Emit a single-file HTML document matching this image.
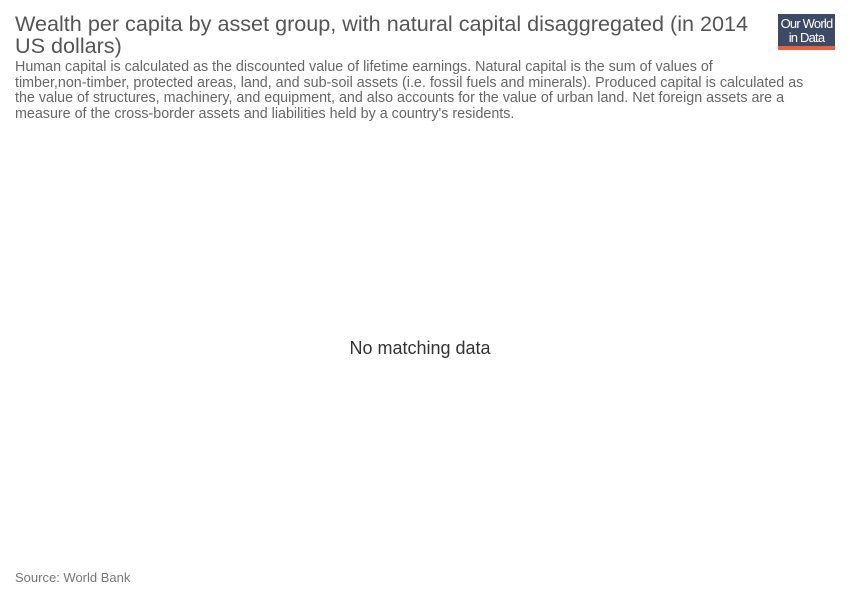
<!DOCTYPE html>
<html><head><meta charset="utf-8"><style>
body{margin:0;width:850px;height:600px;background:#fff;font-family:"Liberation Sans",Arial,sans-serif;position:relative;overflow:hidden}
.t{position:absolute;left:15px;top:13px;width:750px;font-size:21.6px;line-height:22px;color:#555}
.s{position:absolute;left:15px;top:60px;width:800px;font-size:14.3px;line-height:15.7px;color:#666}
.nw{white-space:nowrap}
.logo{position:absolute;left:778px;top:14px;width:57px;height:36px;background:#3d4a66;color:#fff;font-size:13px;line-height:14px;text-align:center;padding-top:3px;box-sizing:border-box;letter-spacing:-0.8px}
.logo:after{content:"";position:absolute;left:0;bottom:0;width:100%;height:4px;background:#e8613c}
.nd{position:absolute;left:0;width:840px;top:338px;text-align:center;font-size:18px;color:#333}
.src{position:absolute;left:15px;top:570px;font-size:13px;color:#777}
</style></head><body>
<div class="t">Wealth per capita by asset group, with natural capital disaggregated (in 2014 US dollars)</div>
<div class="logo">Our World<br>in Data</div>
<div class="s">Human capital is calculated as the discounted value of lifetime earnings. Natural capital is the sum of values of <span class="nw">timber,non-timber,</span> protected areas, land, and sub-soil assets (i.e. fossil fuels and minerals). Produced capital is calculated as the value of structures, machinery, and equipment, and also accounts for the value of urban land. Net foreign assets are a measure of the cross-border assets and liabilities held by a country's residents.</div>
<div class="nd">No matching data</div>
<div class="src">Source: World Bank</div>
</body></html>
